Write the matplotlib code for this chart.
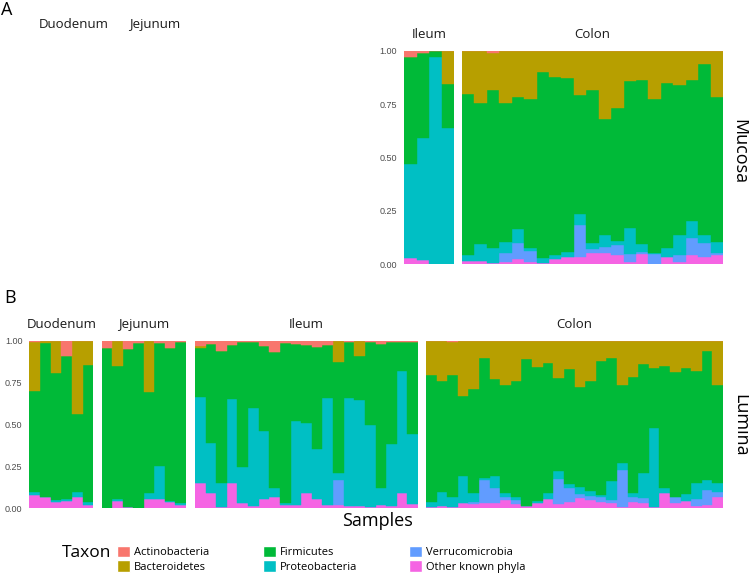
import numpy as np
import matplotlib
matplotlib.use("Agg")
from matplotlib import pyplot as plt
from matplotlib.patches import Patch

# taxa, bottom of stack first (ggplot puts first level on top)
taxa = ["Other known phyla", "Verrucomicrobia", "Proteobacteria",
        "Firmicutes", "Bacteroidetes", "Actinobacteria"]
colors = ["#F564E3", "#619CFF", "#00BFC4", "#00BA38", "#B79F00", "#F8766D"]
legend_order = ["Actinobacteria", "Bacteroidetes", "Firmicutes",
                "Proteobacteria", "Verrucomicrobia", "Other known phyla"]

# each row = one sample, cumulative share at the top of
# Other, Verrucomicrobia, Proteobacteria, Firmicutes, Bacteroidetes
# (Actinobacteria fills the rest up to 1)
mucosa_ileum = [
    [0.03, 0.03, 0.47, 0.97, 0.97],
    [0.02, 0.02, 0.59, 0.99, 0.99],
    [0.0, 0.0, 0.97, 1.0, 1.0],
    [0.0, 0.0, 0.64, 0.845, 1.0],
]
mucosa_colon = [
    [0.016, 0.016, 0.044, 0.798, 1.0],
    [0.016, 0.016, 0.095, 0.755, 1.0],
    [0.008, 0.008, 0.075, 0.817, 0.992],
    [0.0125, 0.055, 0.106, 0.755, 1.0],
    [0.023, 0.098, 0.164, 0.786, 1.0],
    [0.0125, 0.064, 0.078, 0.775, 1.0],
    [0.005, 0.005, 0.031, 0.903, 1.0],
    [0.023, 0.023, 0.044, 0.878, 1.0],
    [0.033, 0.033, 0.059, 0.872, 1.0],
    [0.036, 0.184, 0.234, 0.794, 1.0],
    [0.052, 0.070, 0.098, 0.817, 1.0],
    [0.055, 0.080, 0.1375, 0.681, 1.0],
    [0.044, 0.091, 0.111, 0.731, 1.0],
    [0.0125, 0.05, 0.169, 0.859, 1.0],
    [0.048, 0.059, 0.094, 0.864, 1.0],
    [0.003, 0.048, 0.055, 0.775, 1.0],
    [0.033, 0.033, 0.075, 0.852, 1.0],
    [0.0125, 0.044, 0.1375, 0.839, 1.0],
    [0.044, 0.122, 0.205, 0.864, 1.0],
    [0.033, 0.098, 0.1375, 0.939, 1.0],
    [0.044, 0.052, 0.103, 0.784, 1.0],
]
lumina_duodenum = [
    [0.08, 0.08, 0.099, 0.702, 0.99],
    [0.07, 0.07, 0.07, 0.984, 1.0],
    [0.04, 0.04, 0.05, 0.809, 1.0],
    [0.045, 0.045, 0.054, 0.911, 0.911],
    [0.066, 0.066, 0.095, 0.563, 1.0],
    [0.02, 0.02, 0.036, 0.855, 1.0],
]
lumina_jejunum = [
    [0.0, 0.0, 0.0, 0.958, 0.958],
    [0.046, 0.046, 0.056, 0.851, 1.0],
    [0.006, 0.006, 0.006, 0.95, 0.95],
    [0.0, 0.0, 0.0, 0.984, 0.984],
    [0.056, 0.056, 0.093, 0.696, 1.0],
    [0.056, 0.056, 0.254, 0.988, 0.988],
    [0.04, 0.04, 0.044, 0.954, 0.954],
    [0.02, 0.02, 0.03, 0.99, 0.99],
]
lumina_ileum = [
    [0.153, 0.153, 0.666, 0.954, 0.968],
    [0.093, 0.093, 0.388, 0.978, 0.978],
    [0.01, 0.01, 0.153, 0.94, 0.94],
    [0.153, 0.153, 0.654, 0.974, 0.974],
    [0.034, 0.034, 0.245, 0.994, 0.994],
    [0.014, 0.014, 0.60, 0.994, 0.994],
    [0.054, 0.054, 0.461, 0.968, 0.968],
    [0.066, 0.066, 0.123, 0.93, 0.93],
    [0.02, 0.02, 0.03, 0.988, 0.988],
    [0.02, 0.02, 0.523, 0.978, 0.978],
    [0.089, 0.089, 0.507, 0.974, 0.974],
    [0.054, 0.054, 0.352, 0.964, 0.964],
    [0.02, 0.02, 0.656, 0.974, 0.974],
    [0.02, 0.169, 0.213, 0.875, 1.0],
    [0.014, 0.014, 0.656, 0.994, 0.994],
    [0.014, 0.014, 0.646, 0.909, 1.0],
    [0.01, 0.01, 0.497, 0.994, 0.994],
    [0.02, 0.02, 0.119, 0.978, 0.978],
    [0.016, 0.016, 0.384, 0.99, 0.99],
    [0.093, 0.093, 0.819, 0.994, 0.994],
    [0.026, 0.026, 0.441, 0.994, 0.994],
]
lumina_colon = [
    [0.01, 0.01, 0.040, 0.795, 1.0],
    [0.014, 0.014, 0.097, 0.761, 1.0],
    [0.01, 0.01, 0.066, 0.795, 0.995],
    [0.03, 0.03, 0.195, 0.670, 1.0],
    [0.024, 0.04, 0.089, 0.710, 1.0],
    [0.03, 0.169, 0.183, 0.895, 1.0],
    [0.034, 0.123, 0.193, 0.769, 1.0],
    [0.05, 0.070, 0.089, 0.736, 1.0],
    [0.026, 0.05, 0.066, 0.759, 1.0],
    [0.016, 0.016, 0.016, 0.889, 1.0],
    [0.03, 0.03, 0.046, 0.845, 1.0],
    [0.054, 0.054, 0.089, 0.865, 1.0],
    [0.024, 0.175, 0.223, 0.775, 1.0],
    [0.04, 0.119, 0.145, 0.829, 1.0],
    [0.06, 0.085, 0.125, 0.722, 1.0],
    [0.05, 0.074, 0.105, 0.761, 1.0],
    [0.04, 0.066, 0.08, 0.879, 1.0],
    [0.03, 0.05, 0.163, 0.899, 1.0],
    [0.005, 0.229, 0.268, 0.736, 1.0],
    [0.04, 0.07, 0.089, 0.781, 1.0],
    [0.03, 0.06, 0.213, 0.861, 1.0],
    [0.01, 0.01, 0.477, 0.839, 1.0],
    [0.089, 0.089, 0.123, 0.851, 1.0],
    [0.03, 0.07, 0.07, 0.813, 0.996],
    [0.044, 0.044, 0.085, 0.835, 0.996],
    [0.014, 0.054, 0.153, 0.821, 1.0],
    [0.02, 0.109, 0.169, 0.940, 1.0],
    [0.07, 0.099, 0.153, 0.734, 1.0],
]
yticks = [0.0, 0.25, 0.5, 0.75, 1.0]
ytick_labels = ["0.00", "0.25", "0.50", "0.75", "1.00"]

W, H = 749, 581
LABEL_FONT = "Open Sans"
TICK_FONT = "Liberation Sans"

fig = plt.figure(figsize=(W / 100, H / 100), dpi=100)


def panel(x0, x1, ytop, ybot):
    return fig.add_axes([x0 / W, 1 - ybot / H, (x1 - x0) / W, (ybot - ytop) / H])


def draw(ax, rows, title, show_y=False):
    rows = np.array(rows)
    n = len(rows)
    edges = np.column_stack([np.zeros(n), rows, np.ones(n)])
    x = np.arange(n)
    for k, col in enumerate(colors):
        ax.bar(x, edges[:, k + 1] - edges[:, k], bottom=edges[:, k], width=1.0,
               color=col, edgecolor=col, linewidth=0.3)
    ax.set_xlim(-0.5, n - 0.5)
    ax.set_ylim(0, 1)
    for s in ax.spines.values():
        s.set_visible(False)
    ax.set_xticks([])
    ax.set_yticks(yticks)
    if show_y:
        ax.set_yticklabels(ytick_labels, fontsize=6.5, color="#4D4D4D", family=TICK_FONT)
    else:
        ax.set_yticklabels([])
    ax.tick_params(axis="y", length=0, pad=5)
    ax.set_title(title, fontsize=9.5, family=LABEL_FONT, pad=9, color="#1A1A1A")


# panel A (mucosa)
ax = panel(404, 454, 51, 264.3)
draw(ax, mucosa_ileum, "Ileum", show_y=True)
ax = panel(462, 723, 51, 264.3)
draw(ax, mucosa_colon, "Colon")

# panel B (lumina)
ax = panel(29.3, 93.3, 340.7, 508.3)
draw(ax, lumina_duodenum, "Duodenum", show_y=True)
ax = panel(101.7, 185.7, 340.7, 508.3)
draw(ax, lumina_jejunum, "Jejunum")
ax = panel(195, 418, 340.7, 508.3)
draw(ax, lumina_ileum, "Ileum")
ax = panel(426, 723, 340.7, 508.3)
draw(ax, lumina_colon, "Colon")

# empty facet labels in panel A
fig.text(73.5 / W, 1 - 28 / H, "Duodenum", fontsize=9.5, family=LABEL_FONT,
         ha="center", va="baseline", color="#1A1A1A")
fig.text(154.5 / W, 1 - 28 / H, "Jejunum", fontsize=9.5, family=LABEL_FONT,
         ha="center", va="baseline", color="#1A1A1A")

fig.text(1 / W, 1 - 15 / H, "A", fontsize=13, family=LABEL_FONT, va="baseline")
fig.text(4 / W, 1 - 303 / H, "B", fontsize=13, family=LABEL_FONT, va="baseline")

fig.text(739 / W, 1 - 152 / H, "Mucosa", fontsize=13, family=LABEL_FONT,
         rotation=270, ha="center", va="center")
fig.text(740 / W, 1 - 425 / H, "Lumina", fontsize=13, family=LABEL_FONT,
         rotation=270, ha="center", va="center")
fig.text(377 / W, 1 - 521 / H, "Samples", fontsize=13, family=LABEL_FONT,
         ha="center", va="center")
fig.text(87 / W, 1 - 553 / H, "Taxon", fontsize=12.5, family=LABEL_FONT,
         ha="center", va="center")

# legend, three columns of two keys
col_of = dict(zip(taxa, colors))
for i, xk in enumerate([117, 263, 409]):
    names = legend_order[2 * i:2 * i + 2]
    handles = [Patch(facecolor=col_of[nm], edgecolor="white") for nm in names]
    fig.legend(handles, names, loc="upper left", bbox_to_anchor=(xk / W, 1 - 546 / H),
               frameon=False, borderpad=0, borderaxespad=0, handlelength=1.2,
               handleheight=1.2, handletextpad=0.3, labelspacing=0.15,
               prop={"family": LABEL_FONT, "size": 8})

fig.savefig("out.png", dpi=100)
